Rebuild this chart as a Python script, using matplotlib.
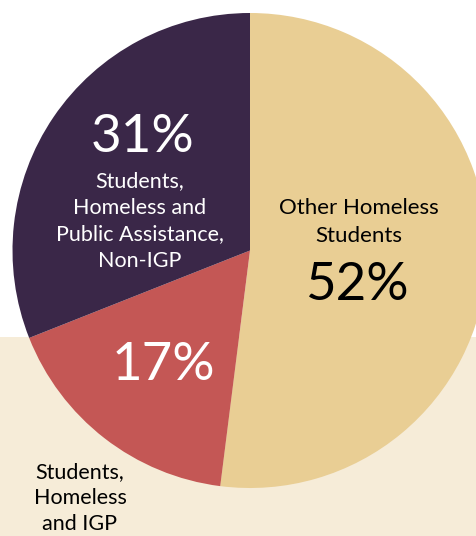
import matplotlib
matplotlib.use("Agg")
import matplotlib.pyplot as plt
from matplotlib.patches import Rectangle

# Data
categories = ["Other Homeless\nStudents", "Students,\nHomeless\nand IGP",
              "Students,\nHomeless and\nPublic Assistance,\nNon-IGP"]
values = [52, 17, 31]
pct_labels = ["52%", "17%", "31%"]
colors = ["#E9CE94", "#C45755", "#3A2748"]

W, H = 476, 536
fig = plt.figure(figsize=(W / 100, H / 100), dpi=100)
ax = fig.add_axes([0, 0, 1, 1])

FONT = ["Lato", "DejaVu Sans"]

# background band
ax.add_patch(Rectangle((0, 337), W, H - 337, facecolor="#F6ECD8", edgecolor="none", zorder=0))

cx, cy, r = 250, 250.5, 237.5
# y axis is inverted (pixel coords), so data-counterclockwise is visually clockwise
wedges, _ = ax.pie(values, colors=colors, startangle=-90, counterclock=True,
                   center=(cx, cy), radius=r, frame=True,
                   wedgeprops=dict(linewidth=0))
for w in wedges:
    w.set_zorder(2)
ax.set_xlim(0, W)
ax.set_ylim(H, 0)
ax.set_aspect("equal")
ax.axis("off")

# Labels
ax.text(143, 138, pct_labels[2], color="white", fontsize=38, ha="center", va="center", family=FONT, zorder=3)
ax.text(140, 221, categories[2], color="white", fontsize=15.5, ha="center", va="center",
        family=FONT, linespacing=1.4, zorder=3)
ax.text(359, 222, categories[0], color="black", fontsize=16, ha="center", va="center",
        family=FONT, linespacing=1.5, zorder=3)
ax.text(357, 285, pct_labels[0], color="black", fontsize=38, ha="center", va="center", family=FONT, zorder=3)
ax.text(163, 366, pct_labels[1], color="white", fontsize=38, ha="center", va="center", family=FONT, zorder=3)
ax.text(80, 498, categories[1], color="black", fontsize=15.5, ha="center", va="center",
        family=FONT, linespacing=1.35, zorder=3)

fig.savefig("out.png", dpi=100)
